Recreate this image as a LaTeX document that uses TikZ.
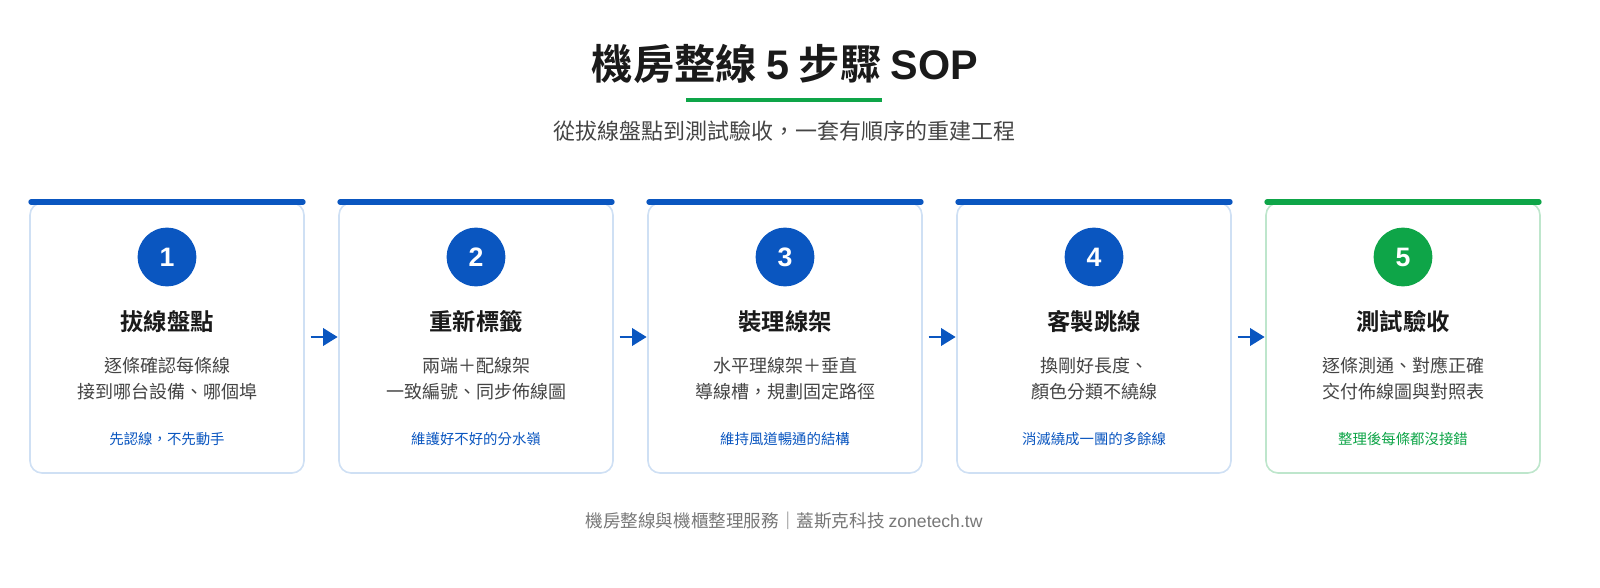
\documentclass[tikz,border=0pt]{standalone}
\usepackage{fontspec}
\setmainfont{Noto Sans CJK TC}[BoldFont={Noto Sans CJK TC Bold}]
\newfontfamily\lat{Liberation Sans}
\usetikzlibrary{arrows.meta}
\definecolor{blu}{HTML}{0A56C0}
\definecolor{grn}{HTML}{0EA548}
\definecolor{bbord}{HTML}{CFE0F4}
\definecolor{gbord}{HTML}{BEE6CC}
\definecolor{dark}{HTML}{1A1A1A}
\definecolor{mid}{HTML}{444444}
\definecolor{foot}{HTML}{777777}
\begin{document}
\begin{tikzpicture}[x=0.75pt,y=-0.75pt,
 card/.style={draw=bbord,line width=1.2pt,rounded corners=9pt,fill=white},
 num/.style={circle,fill=blu,minimum size=44pt,inner sep=0pt,text=white,font=\lat\bfseries\fontsize{20}{20}\selectfont},
 ttl/.style={text=dark,font=\bfseries\fontsize{17.5}{19}\selectfont},
 dsc/.style={text=mid,align=center,font=\fontsize{13.5}{19.5}\selectfont},
 tag/.style={text=blu,font=\fontsize{10.8}{12}\selectfont},
 arr/.style={draw=blu,line width=2.2pt,-{Triangle[length=11pt,width=13pt]}}]
\node[text=dark,font=\bfseries\fontsize{31}{34}\selectfont] (title) at (785,64) {機房整線 {\lat\bfseries 5} 步驟 {\lat\bfseries SOP}};
\draw[grn,line width=3pt] (686,100) -- (882,100);
\node[text=mid,font=\fontsize{16.5}{18}\selectfont] (sub) at (784,131) {從拔線盤點到測試驗收，一套有順序的重建工程};
\foreach \i/\a/\b/\g [count=\k] in {
 拔線盤點/逐條確認每條線/接到哪台設備、哪個埠/先認線，不先動手,
 重新標籤/兩端＋配線架/一致編號、同步佈線圖/維護好不好的分水嶺,
 裝理線架/水平理線架＋垂直/導線槽，規劃固定路徑/維持風道暢通的結構,
 客製跳線/換剛好長度、/顏色分類不繞線/消滅繞成一團的多餘線,
 測試驗收/逐條測通、對應正確/交付佈線圖與對照表/整理後每條都沒接錯}{
 \pgfmathsetmacro\x{30+309*(\k-1)}
 \ifnum\k=5 \def\cc{grn}\def\bc{gbord}\else\def\cc{blu}\def\bc{bbord}\fi
 \draw[card,draw=\bc] (\x,203) rectangle ++(274,270);
 \draw[\cc,line width=4pt,line cap=round] (\x+1,202) -- ++(272,0);
 \node[num,fill=\cc] (n\k) at (\x+137,257) {\k};
 \node[ttl] (t\k) at (\x+137,322) {\i};
 \node[dsc] (d\k) at (\x+137,379) {\a\\\b};
 \node[tag,text=\cc] (g\k) at (\x+137,439) {\g};
 \coordinate (L\k) at (\x,337);
 \coordinate (R\k) at (\x+274,337);
}
\foreach \k/\j in {1/2,2/3,3/4,4/5}{
 \draw[arr] ([xshift=5pt]R\k) -- ([xshift=-1pt]L\j);
}
\node[text=foot,font=\fontsize{13.2}{15}\selectfont] (ft) at (784,521) {機房整線與機櫃整理服務｜蓋斯克科技 {\lat zonetech.tw}};
\pgfresetboundingbox
\useasboundingbox (0,0) rectangle (1600,588);
\end{tikzpicture}
\end{document}
